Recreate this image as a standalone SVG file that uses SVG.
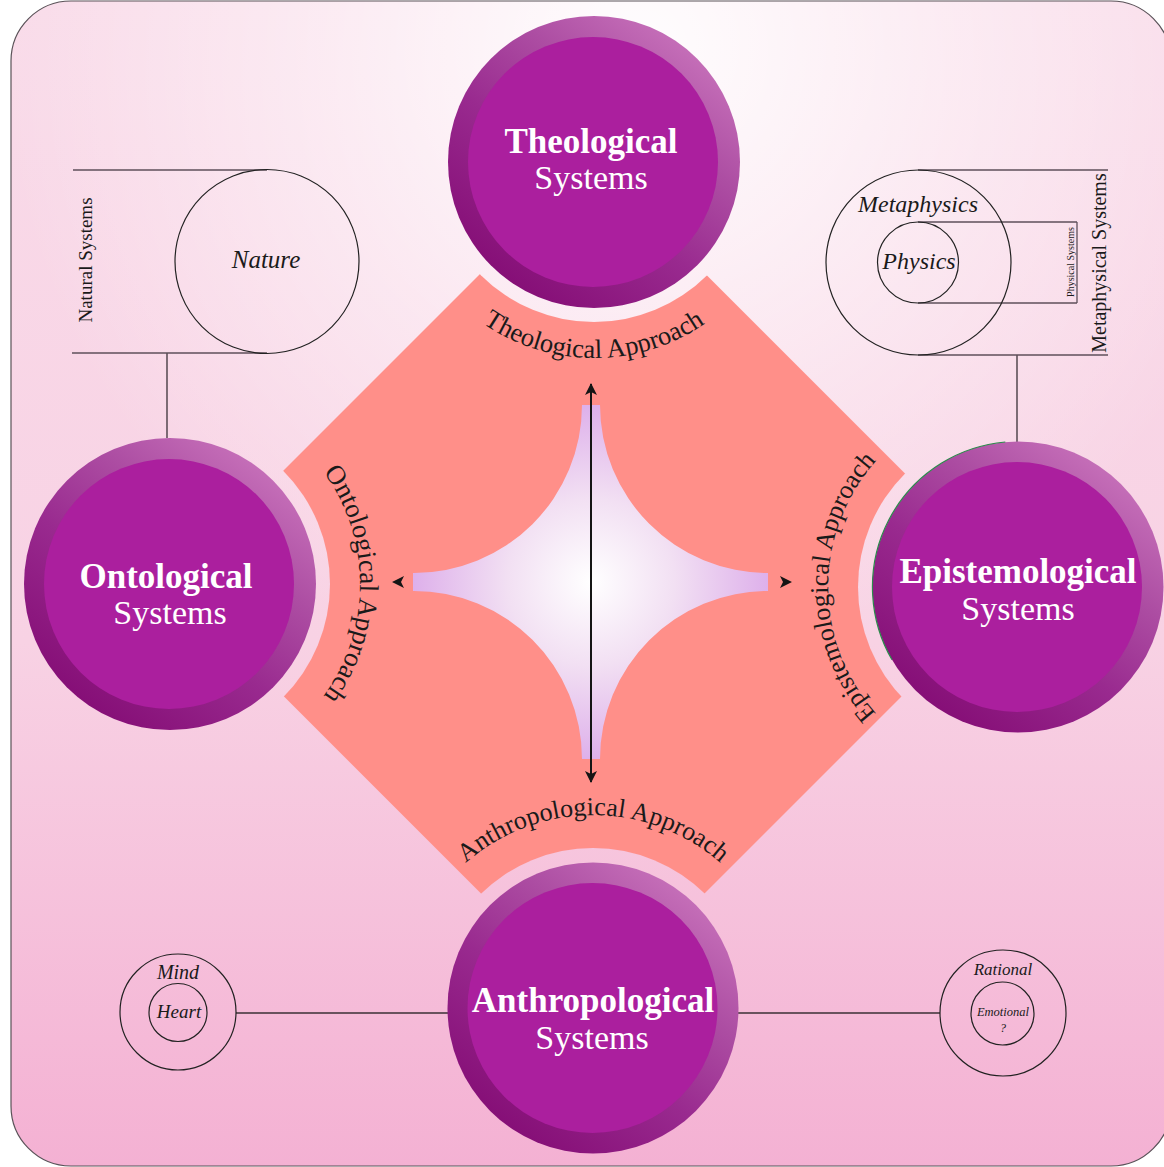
<svg xmlns="http://www.w3.org/2000/svg" xmlns:xlink="http://www.w3.org/1999/xlink" width="1164" height="1167" viewBox="0 0 1164 1167">
<defs>
<style>
.ring{fill:url(#ringGrad);}
.core{fill:#ab1f9e;}
.tb{font-family:"Liberation Serif","Times New Roman",serif;font-weight:bold;font-size:35px;fill:#ffffff;text-anchor:middle;}
.tr{font-family:"Liberation Serif","Times New Roman",serif;font-size:34px;fill:#ffffff;text-anchor:middle;}
.appr{font-family:"Liberation Serif","Times New Roman",serif;font-size:26px;fill:#1a1a1a;}
.it{font-family:"Liberation Serif","Times New Roman",serif;font-style:italic;fill:#1a1a1a;text-anchor:middle;}
.sys{font-family:"Liberation Serif","Times New Roman",serif;fill:#1a1a1a;text-anchor:middle;}
.bracket{stroke:#5e4f5a;stroke-width:1.3;fill:none;}
.ring-line{stroke:#222;stroke-width:1.2;fill:none;}
.conn{stroke:#3a3036;stroke-width:1.3;fill:none;}
.arrow{stroke:#151515;stroke-width:2;fill:none;}
.ah{fill:#151515;}
</style>
<linearGradient id="bgLin" x1="0" y1="0" x2="0" y2="1">
<stop offset="0" stop-color="#f9dbe9"/>
<stop offset="0.55" stop-color="#f8d2e4"/>
<stop offset="1" stop-color="#f4b1d3"/>
</linearGradient>
<radialGradient id="bgRad" cx="640" cy="50" r="640" gradientUnits="userSpaceOnUse">
<stop offset="0" stop-color="#ffffff" stop-opacity="0.95"/>
<stop offset="0.5" stop-color="#ffffff" stop-opacity="0.45"/>
<stop offset="1" stop-color="#ffffff" stop-opacity="0"/>
</radialGradient>
<linearGradient id="ringGrad" x1="0.85" y1="0.08" x2="0.2" y2="0.92">
<stop offset="0" stop-color="#c873bb"/>
<stop offset="0.3" stop-color="#ad4ea3"/>
<stop offset="0.6" stop-color="#992a8f"/>
<stop offset="1" stop-color="#850e76"/>
</linearGradient>
<radialGradient id="starGrad" cx="591" cy="582" r="185" gradientUnits="userSpaceOnUse">
<stop offset="0" stop-color="#ffffff"/>
<stop offset="0.45" stop-color="#f2e0f3"/>
<stop offset="1" stop-color="#dcacea"/>
</radialGradient>
<mask id="diamondMask" maskUnits="userSpaceOnUse" x="0" y="0" width="1164" height="1167">
<rect x="0" y="0" width="1164" height="1167" fill="#fff"/>
<circle cx="594" cy="162" r="160" fill="#000"/>
<circle cx="170" cy="584" r="160" fill="#000"/>
<circle cx="1018" cy="587" r="160" fill="#000"/>
<circle cx="593" cy="1008" r="160" fill="#000"/>
</mask>
<marker id="arrowHead" viewBox="0 0 12 12" refX="11" refY="6" markerWidth="12" markerHeight="12" markerUnits="userSpaceOnUse" orient="auto-start-reverse">
<path d="M0,0 L12,6 L0,12 L3,6 Z" fill="#151515"/>
</marker>
<path id="pTop" d="M409.8,229 A196,196 0 0 0 778.2,229"/>
<path id="pLeft" d="M265,419.5 A190,190 0 0 1 265,748.5"/>
<path id="pRight" d="M923,751.5 A190,190 0 0 1 923,422.5"/>
<path id="pBottom" d="M425.9,911.5 A193,193 0 0 1 760.1,911.5"/>
</defs>

<g id="background">
<rect x="11" y="1" width="1160" height="1165" rx="60" ry="60" fill="url(#bgLin)"/>
<rect x="11" y="1" width="1160" height="1165" rx="60" ry="60" fill="url(#bgRad)" stroke="#5a5258" stroke-width="1.2"/>
</g>

<g id="approach-diamond">
<polygon points="592.75,161.25 1014.75,583.25 592.75,1005.25 170.75,583.25" fill="#ff8f89" mask="url(#diamondMask)"/>
</g>

<g id="center-star">
<path d="M582,405 L600,405 A168,168 0 0 0 768,573 L768,591 A168,168 0 0 0 600,759 L582,759 A168,168 0 0 0 413,591 L413,573 A168,168 0 0 0 582,405 Z" fill="url(#starGrad)"/>
</g>

<g id="approach-labels">
<text class="appr" style="font-size:26.5px"><textPath href="#pTop" xlink:href="#pTop" startOffset="50%" text-anchor="middle">Theological Approach</textPath></text>
<text class="appr" style="font-size:27px"><textPath href="#pLeft" xlink:href="#pLeft" startOffset="50%" text-anchor="middle">Ontological Approach</textPath></text>
<text class="appr"><textPath href="#pRight" xlink:href="#pRight" startOffset="50%" text-anchor="middle">Epistemological Approach</textPath></text>
<text class="appr"><textPath href="#pBottom" xlink:href="#pBottom" startOffset="50%" text-anchor="middle">Anthropological Approach</textPath></text>
</g>

<g id="connectors">
<line class="arrow" x1="591" y1="384" x2="591" y2="782" marker-start="url(#arrowHead)" marker-end="url(#arrowHead)"/>
<path class="ah" d="M392,582 L404,576 L401,582 L404,588 Z"/>
<path class="ah" d="M792,582 L780,576 L783,582 L780,588 Z"/>
<line class="conn" x1="167" y1="353" x2="167" y2="438"/>
<line class="conn" x1="1017" y1="355" x2="1017" y2="442"/>
<line class="conn" x1="236" y1="1013" x2="448" y2="1013"/>
<line class="conn" x1="738" y1="1013" x2="940" y2="1013"/>
</g>

<g id="node-theological">
<circle class="ring" cx="594" cy="162" r="146"/>
<circle class="core" cx="593" cy="162" r="125"/>
<text class="tb" x="591" y="153">Theological</text>
<text class="tr" x="591" y="189">Systems</text>
</g>

<g id="node-ontological">
<circle class="ring" cx="170" cy="584" r="146"/>
<circle class="core" cx="169" cy="584" r="125"/>
<text class="tb" x="166" y="588">Ontological</text>
<text class="tr" x="170" y="624">Systems</text>
</g>

<g id="node-epistemological">
<circle class="ring" cx="1018" cy="587" r="145.5"/>
<path d="M1005.3,442 A145.5,145.5 0 0 0 892,659.8" fill="none" stroke="#2a8a4a" stroke-width="1.2"/>
<circle class="core" cx="1017" cy="587" r="125"/>
<text class="tb" x="1018" y="583">Epistemological</text>
<text class="tr" x="1018" y="620">Systems</text>
</g>

<g id="node-anthropological">
<circle class="ring" cx="593" cy="1008" r="145.5"/>
<circle class="core" cx="592.5" cy="1008" r="125"/>
<text class="tb" x="593" y="1012">Anthropological</text>
<text class="tr" x="592" y="1049">Systems</text>
</g>

<g id="node-nature">
<line class="bracket" x1="73" y1="170" x2="267" y2="170"/>
<line class="bracket" x1="72" y1="353" x2="267" y2="353"/>
<circle class="ring-line" cx="267" cy="261.5" r="92"/>
<text class="it" x="266" y="268" style="font-size:25px">Nature</text>
<text class="sys" x="92" y="260" transform="rotate(-90 92 260)" style="font-size:19px">Natural Systems</text>
</g>

<g id="node-metaphysics">
<line class="bracket" x1="918" y1="170" x2="1108" y2="170"/>
<line class="bracket" x1="918" y1="355" x2="1108" y2="355"/>
<line class="bracket" x1="918" y1="222" x2="1077" y2="222"/>
<line class="bracket" x1="918" y1="303" x2="1077" y2="303"/>
<line class="bracket" x1="1077" y1="222" x2="1077" y2="303"/>
<circle class="ring-line" cx="918.5" cy="262.5" r="92.5"/>
<circle class="ring-line" cx="918" cy="262.5" r="40.5"/>
<text class="it" x="918" y="212" style="font-size:24px">Metaphysics</text>
<text class="it" x="919" y="269" style="font-size:24px">Physics</text>
<text class="sys" x="1074" y="262" transform="rotate(-90 1074 262)" style="font-size:10px">Physical Systems</text>
<text class="sys" x="1106" y="263" transform="rotate(-90 1106 263)" style="font-size:20px">Metaphysical Systems</text>
</g>

<g id="node-mind-heart">
<circle class="ring-line" cx="178" cy="1012" r="58"/>
<circle class="ring-line" cx="178" cy="1012.5" r="29"/>
<text class="it" x="178" y="979" style="font-size:20px">Mind</text>
<text class="it" x="179" y="1018" style="font-size:19px">Heart</text>
</g>

<g id="node-rational-emotional">
<circle class="ring-line" cx="1003" cy="1013" r="63"/>
<circle class="ring-line" cx="1002.5" cy="1013.5" r="31.5"/>
<text class="it" x="1003" y="975" style="font-size:17px">Rational</text>
<text class="it" x="1003" y="1016" style="font-size:12.5px">Emotional</text>
<text class="it" x="1003" y="1032" style="font-size:12px">?</text>
</g>
</svg>
